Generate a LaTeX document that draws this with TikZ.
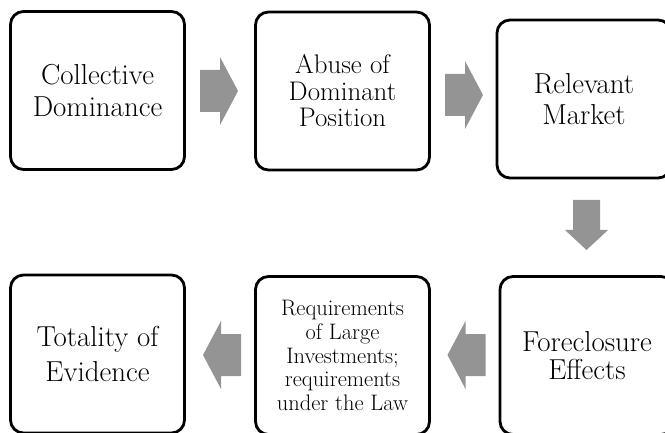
\documentclass[tikz,border=0pt]{standalone}
\usepackage{fontspec}
\begin{document}
\begin{tikzpicture}[x=1bp,y=-1bp,
  box/.style={draw=black, line width=2.8bp, rounded corners=13bp, fill=white,
    minimum width=174bp, minimum height=158bp, inner sep=0pt, align=center},
  arrowfill/.style={fill=black!42},
  rarr/.pic={\fill[arrowfill] (-19,-21) -- (1,-21) -- (1,-34) -- (19,0) -- (1,34) -- (1,21) -- (-19,21) -- cycle;},
  darr/.pic={\fill[arrowfill] (-13.5,-25) -- (13.5,-25) -- (13.5,5) -- (21.5,5) -- (0,25) -- (-21.5,5) -- (-13.5,5) -- cycle;}
]
\useasboundingbox (0,0) rectangle (665,433);
% boxes
\node[box, font=\fontsize{29}{32}\selectfont] (b1) at (97.5,90.5) {Collective\\Dominance};
\node[box, font=\fontsize{27}{26.5}\selectfont] (b2) at (342.5,91) {Abuse of\\Dominant\\Position};
\node[box, font=\fontsize{29}{31}\selectfont] (b3) at (584,99) {Relevant\\Market};
\node[box, font=\fontsize{29}{28}\selectfont] (b6) at (587,355.5) {Foreclosure\\Effects};
\node[box, font=\fontsize{22.5}{23.7}\selectfont] (b5) at (342.5,355.5) {Requirements\\of Large\\Investments;\\requirements\\under the Law};
\node[box, font=\fontsize{29}{35}\selectfont] (b4) at (97.5,354) {Totality of\\Evidence};
% block arrows between boxes
\coordinate (a1) at (219,91);
\coordinate (a2) at (464,95);
\coordinate (a3) at (586.5,225);
\coordinate (a4) at (466.5,355);
\coordinate (a5) at (222,355);
\pic at (a1) {rarr};
\pic at (a2) {rarr};
\pic at (a3) {darr};
\pic[rotate=180] at (a4) {rarr};
\pic[rotate=180] at (a5) {rarr};
\end{tikzpicture}
\end{document}
